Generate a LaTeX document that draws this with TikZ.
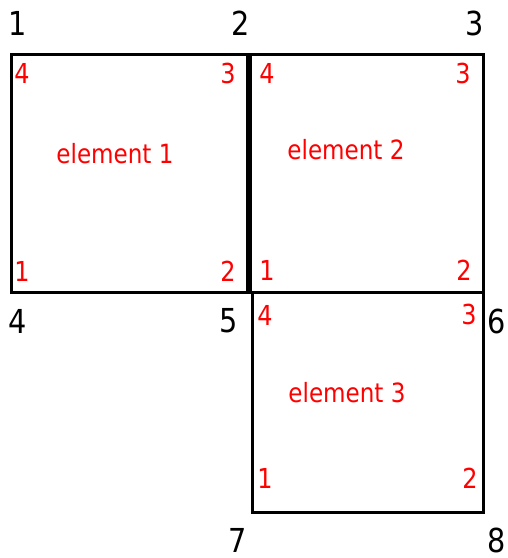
\documentclass[tikz,border=0pt]{standalone}
\usepackage{fontspec}
\setmainfont{DejaVu Sans}[FakeStretch=0.87]
\definecolor{lred}{RGB}{255,0,0}
\begin{document}
\begin{tikzpicture}[x=1pt,y=-1pt,
  elem/.style={draw=black,line width=3pt},
  gnum/.style={anchor=base,inner sep=0,font=\fontsize{33}{33}\selectfont,text=black},
  lnum/.style={anchor=base,inner sep=0,font=\fontsize{27.5}{27.5}\selectfont,text=lred},
  elabel/.style={anchor=base,inner sep=0,font=\fontsize{26.5}{26.5}\selectfont,text=lred}]
\useasboundingbox (0,0) rectangle (508,558);
% elements
\draw[elem] (11,54) rectangle (247.5,292);
\draw[elem] (250,54) rectangle (483.5,292);
\draw[elem] (252,292) rectangle (483.5,512);
% global node numbers
\node[gnum] (g1) at (18,35) {1};
\node[gnum] (g2) at (241,35) {2};
\node[gnum] (g3) at (475,35) {3};
\node[gnum] (g4) at (18,333) {4};
\node[gnum] (g5) at (229,332) {5};
\node[gnum] (g6) at (497,333) {6};
\node[gnum] (g7) at (238,552) {7};
\node[gnum] (g8) at (497,552) {8};
% element 1 local numbers
\node[lnum] (a4) at (22,83) {4};
\node[lnum] (a3) at (228,83) {3};
\node[lnum] (a1) at (22,281) {1};
\node[lnum] (a2) at (228,281) {2};
\node[elabel] (e1) at (115,163) {element 1};
% element 2 local numbers
\node[lnum] (b4) at (267,83) {4};
\node[lnum] (b3) at (463,83) {3};
\node[lnum] (b1) at (267,280) {1};
\node[lnum] (b2) at (464,280) {2};
\node[elabel] (e2) at (346,159) {element 2};
% element 3 local numbers
\node[lnum] (c4) at (265,325) {4};
\node[lnum] (c3) at (469,324) {3};
\node[lnum] (c1) at (265,488) {1};
\node[lnum] (c2) at (470,488) {2};
\node[elabel] (e3) at (347,402) {element 3};
\end{tikzpicture}
\end{document}
